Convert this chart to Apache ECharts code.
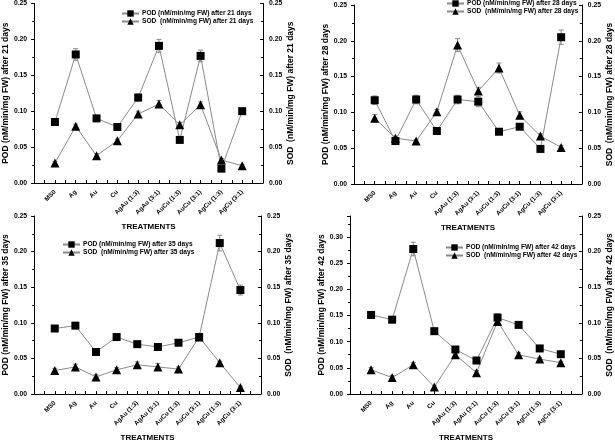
<!DOCTYPE html>
<html>
<head>
<meta charset="utf-8">
<script src="https://cdn.jsdelivr.net/npm/echarts@6/dist/echarts.min.js"></script>
<style>html,body{margin:0;padding:0;background:#fff}#c{width:615px;height:443px}</style>
</head>
<body>
<div id="c"></div>
<script>
const categories = ['MS0','Ag','Au','Cu','AgAu (1:3)','AgAu (3:1)','AuCu (1:3)','AuCu (3:1)','AgCu (1:3)','AgCu (3:1)'];
const days = [21, 28, 35, 42];

const pod21 = [0.085, 0.179, 0.090, 0.078, 0.119, 0.191, 0.060, 0.177, 0.020, 0.100];
const sod21 = [0.028, 0.079, 0.038, 0.059, 0.096, 0.110, 0.081, 0.109, 0.032, 0.024];
const podErr21 = [0.003, 0.008, 0.003, 0.002, 0.005, 0.009, 0.003, 0.008, 0.002, 0.003];
const sodErr21 = [0.002, 0.003, 0.003, 0.002, 0.004, 0.005, 0.003, 0.004, 0.002, 0.002];

const pod28 = [0.117, 0.060, 0.118, 0.074, 0.118, 0.115, 0.073, 0.080, 0.049, 0.205];
const sod28 = [0.092, 0.064, 0.060, 0.101, 0.194, 0.130, 0.162, 0.096, 0.067, 0.051];
const podErr28 = [0.006, 0.004, 0.006, 0.003, 0.006, 0.007, 0.003, 0.003, 0.002, 0.010];
const sodErr28 = [0.005, 0.003, 0.002, 0.003, 0.009, 0.005, 0.007, 0.005, 0.003, 0.003];

const pod35 = [0.092, 0.096, 0.059, 0.080, 0.070, 0.066, 0.072, 0.080, 0.212, 0.146];
const sod35 = [0.033, 0.038, 0.024, 0.034, 0.041, 0.038, 0.035, 0.080, 0.044, 0.009];
const podErr35 = [0.003, 0.003, 0.002, 0.003, 0.002, 0.002, 0.002, 0.004, 0.011, 0.007];
const sodErr35 = [0.003, 0.004, 0.003, 0.003, 0.004, 0.005, 0.003, 0.004, 0.002, 0.002];

const pod42 = [0.151, 0.142, 0.277, 0.120, 0.085, 0.064, 0.146, 0.132, 0.087, 0.076];
const sod42 = [0.034, 0.023, 0.041, 0.010, 0.055, 0.030, 0.102, 0.055, 0.049, 0.044];
const podErr42 = [0.006, 0.006, 0.013, 0.004, 0.004, 0.003, 0.007, 0.004, 0.003, 0.003];
const sodErr42 = [0.003, 0.003, 0.003, 0.002, 0.003, 0.003, 0.004, 0.003, 0.002, 0.002];

const panels = [
  {day: days[0], pod: pod21, sod: sod21, pe: podErr21, se: sodErr21, grid: {left: 33, top: 3, width: 230, height: 180}, leftMax: 0.25, legend: {left: 121, top: 10}},
  {day: days[1], pod: pod28, sod: sod28, pe: podErr28, se: sodErr28, grid: {left: 354, top: 5, width: 229, height: 179}, leftMax: 0.25, legend: {left: 446, top: 0}},
  {day: days[2], pod: pod35, sod: sod35, pe: podErr35, se: sodErr35, grid: {left: 33, top: 216, width: 228, height: 180}, leftMax: 0.25, legend: {left: 62, top: 241}},
  {day: days[3], pod: pod42, sod: sod42, pe: podErr42, se: sodErr42, grid: {left: 350, top: 216, width: 232, height: 180}, leftMax: 0.34, legend: {left: 445, top: 244}}
];

const FONT = 'Liberation Sans, Arial, sans-serif';
const LINE = '#8a8a8a';

const option = {animation: false, backgroundColor: '#fff', grid: [], xAxis: [], yAxis: [], series: [], legend: []};

function errBar(params, api) {
  const x = api.value(0), lo = api.value(1), hi = api.value(2);
  const a = api.coord([x, hi]), b = api.coord([x, lo]);
  const w = 2.5, st = {stroke: '#8a8a8a', lineWidth: 1};
  return {type: 'group', children: [
    {type: 'line', shape: {x1: a[0], y1: a[1], x2: b[0], y2: b[1]}, style: st},
    {type: 'line', shape: {x1: a[0]-w, y1: a[1], x2: a[0]+w, y2: a[1]}, style: st},
    {type: 'line', shape: {x1: b[0]-w, y1: b[1], x2: b[0]+w, y2: b[1]}, style: st}
  ]};
}

panels.forEach((p, i) => {
  option.grid.push(Object.assign({containLabel: false}, p.grid));
  option.xAxis.push({
    type: 'value', gridIndex: i, min: 0, max: 11, interval: 0.5,
    name: 'TREATMENTS', nameLocation: 'middle', nameGap: 40,
    nameTextStyle: {fontFamily: FONT, fontWeight: 'bold', fontSize: 8, color: '#000'},
    axisLine: {show: true, lineStyle: {color: '#000', width: 1}},
    axisTick: {show: true, inside: true, length: 3, lineStyle: {color: '#000'}},
    splitLine: {show: false},
    axisLabel: {
      rotate: 45, margin: 8, fontFamily: FONT, fontWeight: 'bold', fontSize: 6.3, color: '#000',
      showMinLabel: false, showMaxLabel: false,
      formatter: v => (Number.isInteger(v) && v >= 1 && v <= 10) ? categories[v-1] : ''
    }
  });
  const yl = {
    type: 'value', gridIndex: i, min: 0, interval: 0.05,
    nameLocation: 'middle', nameRotate: 90,
    nameTextStyle: {fontFamily: FONT, fontWeight: 'bold', fontSize: 8.5, color: '#000'},
    axisLine: {show: true, lineStyle: {color: '#000', width: 1}},
    splitLine: {show: false},
    minorTick: {show: true, splitNumber: 2, length: 2, lineStyle: {color: '#000'}},
    axisLabel: {fontFamily: FONT, fontWeight: 'bold', fontSize: 6.8, color: '#000', formatter: v => v.toFixed(2)}
  };
  option.yAxis.push(Object.assign({}, yl, {
    position: 'left', max: p.leftMax, name: 'POD (nM/min/mg FW) after ' + p.day + ' days', nameGap: 23,
    axisTick: {show: true, inside: false, length: 3, lineStyle: {color: '#000'}},
    axisLabel: Object.assign({}, yl.axisLabel, {margin: 7, showMaxLabel: p.leftMax === 0.25})
  }));
  option.yAxis.push(Object.assign({}, yl, {
    position: 'right', max: 0.25, name: 'SOD  (nM/min/mg FW) after ' + p.day + ' days', nameGap: 23,
    axisTick: {show: true, inside: true, length: 3, lineStyle: {color: '#000'}},
    axisLabel: Object.assign({}, yl.axisLabel, {margin: 6})
  }));
  const podName = 'POD (nM/min/mg FW) after ' + p.day + ' days';
  const sodName = 'SOD  (nM/min/mg FW) after ' + p.day + ' days';
  option.series.push({
    type: 'custom', xAxisIndex: i, yAxisIndex: 2*i, z: 1, renderItem: errBar,
    data: p.pod.map((v, k) => [k+1, v - p.pe[k], v + p.pe[k]])
  });
  option.series.push({
    type: 'custom', xAxisIndex: i, yAxisIndex: 2*i+1, z: 1, renderItem: errBar,
    data: p.sod.map((v, k) => [k+1, v - p.se[k], v + p.se[k]])
  });
  option.series.push({
    name: podName, type: 'line', xAxisIndex: i, yAxisIndex: 2*i, z: 3,
    symbol: 'rect', symbolSize: 8,
    lineStyle: {color: LINE, width: 1}, itemStyle: {color: '#000'},
    data: p.pod.map((v, k) => [k+1, v])
  });
  option.series.push({
    name: sodName, type: 'line', xAxisIndex: i, yAxisIndex: 2*i+1, z: 3,
    symbol: 'triangle', symbolSize: 9,
    lineStyle: {color: LINE, width: 1}, itemStyle: {color: '#000'},
    data: p.sod.map((v, k) => [k+1, v])
  });
  option.legend.push({
    data: [podName, sodName], orient: 'vertical', left: p.legend.left, top: p.legend.top,
    itemWidth: 17, itemHeight: 8, itemGap: 1, padding: 0, selectedMode: false,
    textStyle: {fontFamily: FONT, fontSize: 6.6, fontWeight: 'bold', color: '#000', padding: [0,0,0,-2]}
  });
});

const chart = echarts.init(document.getElementById('c'), null, {renderer: 'canvas'});
chart.setOption(option);
</script>
</body>
</html>
